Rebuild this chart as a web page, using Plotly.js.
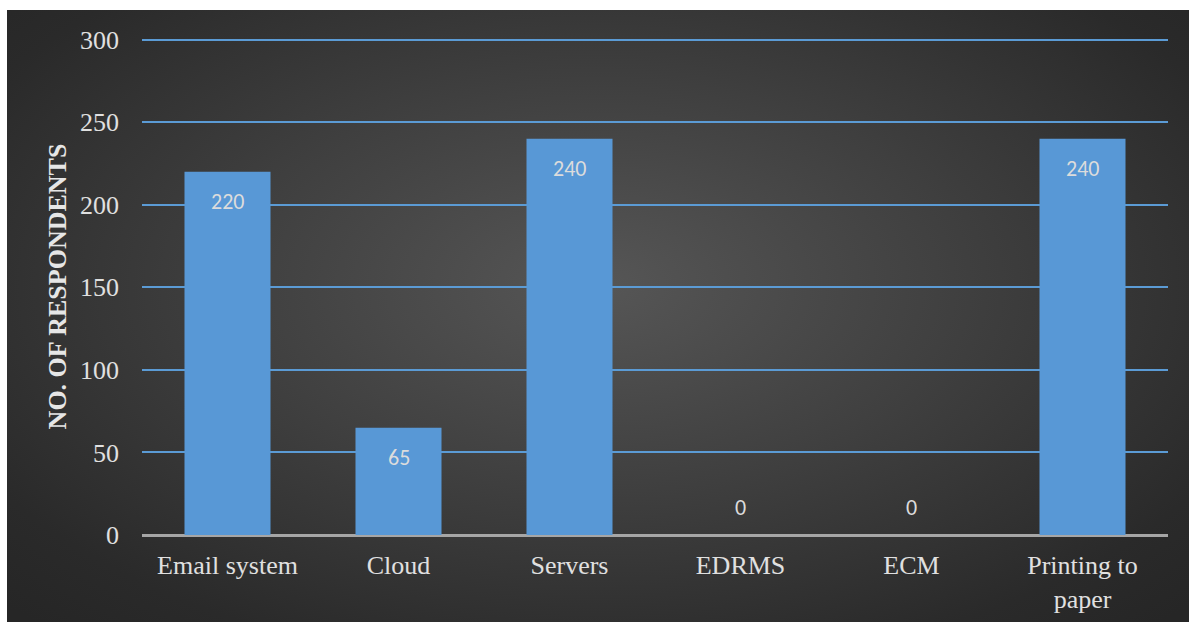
<!DOCTYPE html>
<html>
<head>
<meta charset="utf-8">
<script src="https://cdn.plot.ly/plotly-3.0.1.min.js"></script>
<style>
  html, body { margin: 0; padding: 0; background: #ffffff; width: 1189px; height: 622px; overflow: hidden; }
  #frame {
    position: absolute; left: 7px; top: 10px; width: 1182px; height: 612px;
    background: radial-gradient(ellipse 70% 75% at 50% 45%, #565656 0%, #3f3f3f 45%, #2a2a2a 85%, #262626 100%);
  }
  #chart { position: absolute; left: 0; top: 0; width: 1182px; height: 612px; }
</style>
</head>
<body>
<div id="frame"><div id="chart"></div></div>
<script>
const categories = ["Email system", "Cloud", "Servers", "EDRMS", "ECM", "Printing to paper"];
const tickLabels = ["Email system", "Cloud", "Servers", "EDRMS", "ECM", "Printing to<br>paper"];
const respondents = [220, 65, 240, 0, 0, 240];
const yTicks = [0, 50, 100, 150, 200, 250, 300];

const labelFont = { family: "Carlito, 'Open Sans', 'Liberation Sans', sans-serif", size: 22, color: "#dcdcdc" };
const serifFont = { family: "'Liberation Serif', 'Times New Roman', serif", size: 26, color: "#e0e0e0" };

const trace = {
  type: "bar",
  x: categories,
  y: respondents,
  marker: { color: "#5898d6", line: { width: 0 } },
  hoverinfo: "x+y"
};

const annotations = categories.map((c, i) => ({
  x: c,
  y: respondents[i],
  xref: "x",
  yref: "y",
  text: String(respondents[i]),
  showarrow: false,
  font: labelFont,
  yanchor: respondents[i] > 0 ? "top" : "bottom",
  yshift: respondents[i] > 0 ? -14 : 12
}));

const yTop = 301;
const layout = {
  width: 1182,
  height: 612,
  margin: { l: 135, r: 21, t: 30 - 1.65, b: 87 },
  paper_bgcolor: "rgba(0,0,0,0)",
  plot_bgcolor: "rgba(0,0,0,0)",
  bargap: 0.497,
  showlegend: false,
  xaxis: {
    type: "category",
    tickvals: categories,
    ticktext: tickLabels,
    tickfont: serifFont,
    showgrid: false,
    zeroline: false,
    showline: false,
    ticks: "",
    ticklabelstandoff: 12
  },
  yaxis: {
    range: [0, yTop],
    tickvals: yTicks,
    ticktext: yTicks.map(String),
    tickfont: serifFont,
    showgrid: true,
    gridcolor: "#5b9bd5",
    gridwidth: 2,
    zeroline: true,
    zerolinecolor: "#a6a6a6",
    zerolinewidth: 3,
    showline: false,
    ticks: "",
    ticklabelstandoff: 22,
    title: {
      text: "NO. OF RESPONDENTS",
      font: { family: "'Liberation Serif', 'Times New Roman', serif", size: 26, color: "#e6e6e6", weight: "bold" },
      standoff: 5
    }
  },
  annotations: annotations
};

Plotly.newPlot("chart", [trace], layout, { displayModeBar: false, staticPlot: true });
</script>
</body>
</html>
